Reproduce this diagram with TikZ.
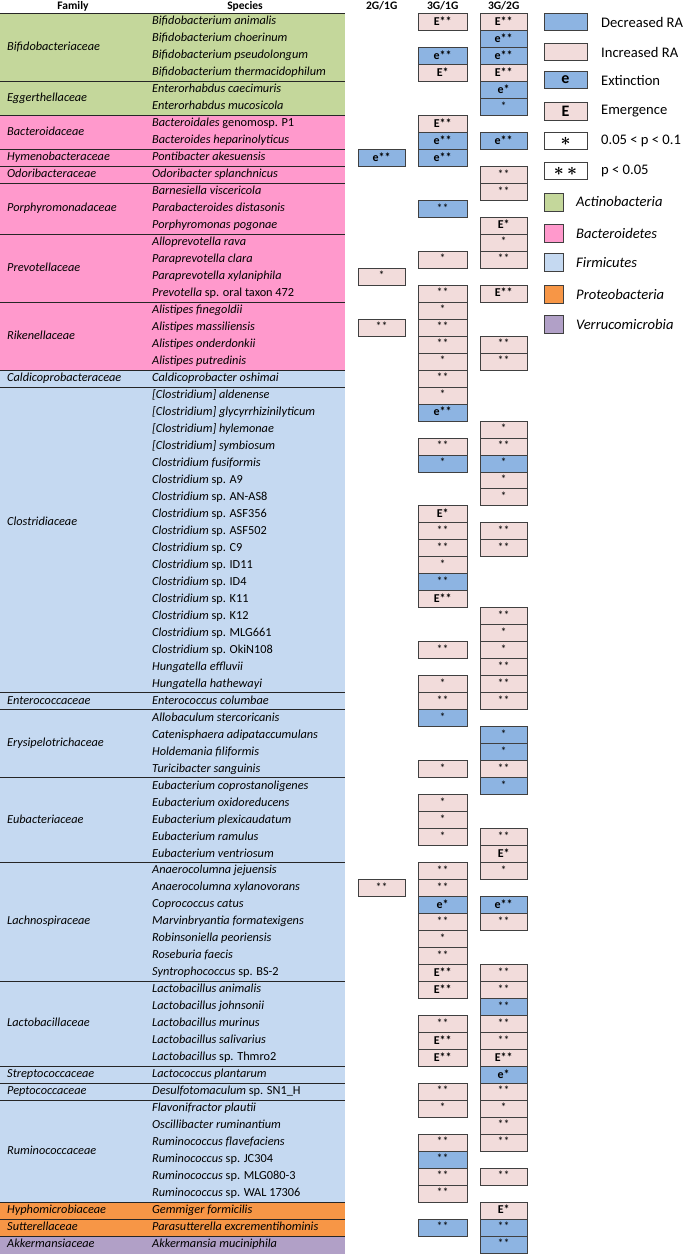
\documentclass[tikz,border=0pt]{standalone}
\usepackage{fontspec}
\setmainfont{Carlito}
\usepackage{tikz}

\definecolor{actino}{HTML}{C4D79B}
\definecolor{bacter}{HTML}{FF99CC}
\definecolor{firmi}{HTML}{C5D9F1}
\definecolor{proteo}{HTML}{F79646}
\definecolor{verruco}{HTML}{B1A0C7}
\definecolor{incr}{HTML}{F2DCDB}
\definecolor{decr}{HTML}{8DB4E2}
\definecolor{boxline}{HTML}{404040}

\tikzset{
  rule/.style={black!85, line width=1pt},
  hdr/.style={inner sep=0pt, font=\fontsize{11.5}{13}\selectfont\bfseries},
  fam/.style={anchor=west, inner sep=0pt, text height=9pt, text depth=3pt,
    font=\fontsize{12.3}{14}\selectfont\itshape},
  spc/.style={fam},
  cell/.style={draw=boxline, line width=0.9pt, inner sep=0pt,
    minimum height=16.98pt, text height=8.5pt, text depth=2pt,
    font=\fontsize{12}{14}\selectfont},
  inc/.style={cell, fill=incr},
  dec/.style={cell, fill=decr},
  wa/.style={minimum width=46.7pt},
  wb/.style={minimum width=48.7pt},
  key/.style={draw=boxline, line width=0.9pt, inner sep=0pt,
    minimum width=43pt, minimum height=17.5pt},
  swatch/.style={draw=boxline, line width=0.9pt, inner sep=0pt,
    minimum width=19pt, minimum height=18pt},
  keytxt/.style={anchor=west, inner sep=0pt, font=\fontsize{14.6}{17}\selectfont},
  phytxt/.style={keytxt, font=\fontsize{14.6}{17}\selectfont\itshape}
}

\newcommand{\Em}[1]{\textbf{E#1}}
\newcommand{\ex}[1]{\textbf{e#1}}

\begin{document}
\begin{tikzpicture}[x=1pt, y=-16.98pt]
\useasboundingbox (0,-0.295) rectangle (685,73.557);

% phylum bands
\fill[actino] (0,0.5) rectangle (345,6.5);
\fill[bacter] (0,6.5) rectangle (345,21.5);
\fill[firmi] (0,21.5) rectangle (345,70.5);
\fill[proteo] (0,70.5) rectangle (345,72.5);
\fill[verruco] (0,72.5) rectangle (345,73.557);

% family rules
\draw[rule] (0,0.5) -- (345,0.5);
\foreach \r in {4.5,6.5,8.5,9.5,10.5,13.5,17.5,21.5,22.5,40.5,41.5,45.5,50.5,57.5,62.5,63.5,64.5,70.5,71.5,72.5}
  \draw[rule] (0,\r) -- (345,\r);

% headers
\node[hdr] (hFam) at (73,0.06) {Family};
\node[hdr] (hSpc) at (245,0.06) {Species};
\node[hdr] (h21) at (381.7,0.06) {2G/1G};
\node[hdr] (h31) at (442.7,0.06) {3G/1G};
\node[hdr] (h32) at (503.7,0.06) {3G/2G};

% families
\node[fam] (fBifido) at (7,2.5) {Bifidobacteriaceae};
\node[fam] (fEgger) at (7,5.5) {Eggerthellaceae};
\node[fam] (fBactero) at (7,7.5) {Bacteroidaceae};
\node[fam] (fHymeno) at (7,9) {Hymenobacteraceae};
\node[fam] (fOdori) at (7,10) {Odoribacteraceae};
\node[fam] (fPorphy) at (7,12) {Porphyromonadaceae};
\node[fam] (fPrevo) at (7,15.5) {Prevotellaceae};
\node[fam] (fRiken) at (7,19.5) {Rikenellaceae};
\node[fam] (fCaldi) at (7,22) {Caldicoprobacteraceae};
\node[fam] (fClostr) at (7,30.5) {Clostridiaceae};
\node[fam] (fEntero) at (7,41) {Enterococcaceae};
\node[fam] (fErysi) at (7,43.5) {Erysipelotrichaceae};
\node[fam] (fEubac) at (7,48) {Eubacteriaceae};
\node[fam] (fLachno) at (7,54) {Lachnospiraceae};
\node[fam] (fLacto) at (7,60) {Lactobacillaceae};
\node[fam] (fStrepto) at (7,63) {Streptococcaceae};
\node[fam] (fPepto) at (7,64) {Peptococcaceae};
\node[fam] (fRumino) at (7,67.5) {Ruminococcaceae};
\node[fam] (fHypho) at (7,71) {Hyphomicrobiaceae};
\node[fam] (fSutter) at (7,72) {Sutterellaceae};
\node[fam] (fAkker) at (7,73) {Akkermansiaceae};

% species
\node[spc] (sp1) at (152,1) {Bifidobacterium animalis};
\node[spc] (sp2) at (152,2) {Bifidobacterium choerinum};
\node[spc] (sp3) at (152,3) {Bifidobacterium pseudolongum};
\node[spc] (sp4) at (152,4) {Bifidobacterium thermacidophilum};
\node[spc] (sp5) at (152,5) {Enterorhabdus caecimuris};
\node[spc] (sp6) at (152,6) {Enterorhabdus mucosicola};
\node[spc] (sp7) at (152,7) {Bacteroidales \textup{genomosp. P1}};
\node[spc] (sp8) at (152,8) {Bacteroides heparinolyticus};
\node[spc] (sp9) at (152,9) {Pontibacter akesuensis};
\node[spc] (sp10) at (152,10) {Odoribacter splanchnicus};
\node[spc] (sp11) at (152,11) {Barnesiella viscericola};
\node[spc] (sp12) at (152,12) {Parabacteroides distasonis};
\node[spc] (sp13) at (152,13) {Porphyromonas pogonae};
\node[spc] (sp14) at (152,14) {Alloprevotella rava};
\node[spc] (sp15) at (152,15) {Paraprevotella clara};
\node[spc] (sp16) at (152,16) {Paraprevotella xylaniphila};
\node[spc] (sp17) at (152,17) {Prevotella \textup{sp. oral taxon 472}};
\node[spc] (sp18) at (152,18) {Alistipes finegoldii};
\node[spc] (sp19) at (152,19) {Alistipes massiliensis};
\node[spc] (sp20) at (152,20) {Alistipes onderdonkii};
\node[spc] (sp21) at (152,21) {Alistipes putredinis};
\node[spc] (sp22) at (152,22) {Caldicoprobacter oshimai};
\node[spc] (sp23) at (152,23) {[Clostridium] aldenense};
\node[spc] (sp24) at (152,24) {[Clostridium] glycyrrhizinilyticum};
\node[spc] (sp25) at (152,25) {[Clostridium] hylemonae};
\node[spc] (sp26) at (152,26) {[Clostridium] symbiosum};
\node[spc] (sp27) at (152,27) {Clostridium fusiformis};
\node[spc] (sp28) at (152,28) {Clostridium \textup{sp. A9}};
\node[spc] (sp29) at (152,29) {Clostridium \textup{sp. AN-AS8}};
\node[spc] (sp30) at (152,30) {Clostridium \textup{sp. ASF356}};
\node[spc] (sp31) at (152,31) {Clostridium \textup{sp. ASF502}};
\node[spc] (sp32) at (152,32) {Clostridium \textup{sp. C9}};
\node[spc] (sp33) at (152,33) {Clostridium \textup{sp. ID11}};
\node[spc] (sp34) at (152,34) {Clostridium \textup{sp. ID4}};
\node[spc] (sp35) at (152,35) {Clostridium \textup{sp. K11}};
\node[spc] (sp36) at (152,36) {Clostridium \textup{sp. K12}};
\node[spc] (sp37) at (152,37) {Clostridium \textup{sp. MLG661}};
\node[spc] (sp38) at (152,38) {Clostridium \textup{sp. OkiN108}};
\node[spc] (sp39) at (152,39) {Hungatella effluvii};
\node[spc] (sp40) at (152,40) {Hungatella hathewayi};
\node[spc] (sp41) at (152,41) {Enterococcus columbae};
\node[spc] (sp42) at (152,42) {Allobaculum stercoricanis};
\node[spc] (sp43) at (152,43) {Catenisphaera adipataccumulans};
\node[spc] (sp44) at (152,44) {Holdemania filiformis};
\node[spc] (sp45) at (152,45) {Turicibacter sanguinis};
\node[spc] (sp46) at (152,46) {Eubacterium coprostanoligenes};
\node[spc] (sp47) at (152,47) {Eubacterium oxidoreducens};
\node[spc] (sp48) at (152,48) {Eubacterium plexicaudatum};
\node[spc] (sp49) at (152,49) {Eubacterium ramulus};
\node[spc] (sp50) at (152,50) {Eubacterium ventriosum};
\node[spc] (sp51) at (152,51) {Anaerocolumna jejuensis};
\node[spc] (sp52) at (152,52) {Anaerocolumna xylanovorans};
\node[spc] (sp53) at (152,53) {Coprococcus catus};
\node[spc] (sp54) at (152,54) {Marvinbryantia formatexigens};
\node[spc] (sp55) at (152,55) {Robinsoniella peoriensis};
\node[spc] (sp56) at (152,56) {Roseburia faecis};
\node[spc] (sp57) at (152,57) {Syntrophococcus \textup{sp. BS-2}};
\node[spc] (sp58) at (152,58) {Lactobacillus animalis};
\node[spc] (sp59) at (152,59) {Lactobacillus johnsonii};
\node[spc] (sp60) at (152,60) {Lactobacillus murinus};
\node[spc] (sp61) at (152,61) {Lactobacillus salivarius};
\node[spc] (sp62) at (152,62) {Lactobacillus \textup{sp. Thmro2}};
\node[spc] (sp63) at (152,63) {Lactococcus plantarum};
\node[spc] (sp64) at (152,64) {Desulfotomaculum \textup{sp. SN1\_H}};
\node[spc] (sp65) at (152,65) {Flavonifractor plautii};
\node[spc] (sp66) at (152,66) {Oscillibacter ruminantium};
\node[spc] (sp67) at (152,67) {Ruminococcus flavefaciens};
\node[spc] (sp68) at (152,68) {Ruminococcus \textup{sp. JC304}};
\node[spc] (sp69) at (152,69) {Ruminococcus \textup{sp. MLG080-3}};
\node[spc] (sp70) at (152,70) {Ruminococcus \textup{sp. WAL 17306}};
\node[spc] (sp71) at (152,71) {Gemmiger formicilis};
\node[spc] (sp72) at (152,72) {Parasutterella excrementihominis};
\node[spc] (sp73) at (152,73) {Akkermansia muciniphila};

% 2G/1G
\node[dec, wa] (a9) at (381.7,9) {\ex{**}};
\node[inc, wa] (a16) at (381.7,16) {*};
\node[inc, wa] (a19) at (381.7,19) {**};
\node[inc, wa] (a52) at (381.7,52) {**};

% 3G/1G
\node[inc, wb] (b1) at (442.7,1) {\Em{**}};
\node[dec, wb] (b3) at (442.7,3) {\ex{**}};
\node[inc, wb] (b4) at (442.7,4) {\Em{*}};
\node[inc, wb] (b7) at (442.7,7) {\Em{**}};
\node[dec, wb] (b8) at (442.7,8) {\ex{**}};
\node[dec, wb] (b9) at (442.7,9) {\ex{**}};
\node[dec, wb] (b12) at (442.7,12) {**};
\node[inc, wb] (b15) at (442.7,15) {*};
\node[inc, wb] (b17) at (442.7,17) {**};
\node[inc, wb] (b18) at (442.7,18) {*};
\node[inc, wb] (b19) at (442.7,19) {**};
\node[inc, wb] (b20) at (442.7,20) {**};
\node[inc, wb] (b21) at (442.7,21) {*};
\node[inc, wb] (b22) at (442.7,22) {**};
\node[inc, wb] (b23) at (442.7,23) {*};
\node[dec, wb] (b24) at (442.7,24) {\ex{**}};
\node[inc, wb] (b26) at (442.7,26) {**};
\node[dec, wb] (b27) at (442.7,27) {*};
\node[inc, wb] (b30) at (442.7,30) {\Em{*}};
\node[inc, wb] (b31) at (442.7,31) {**};
\node[inc, wb] (b32) at (442.7,32) {**};
\node[inc, wb] (b33) at (442.7,33) {*};
\node[dec, wb] (b34) at (442.7,34) {**};
\node[inc, wb] (b35) at (442.7,35) {\Em{**}};
\node[inc, wb] (b38) at (442.7,38) {**};
\node[inc, wb] (b40) at (442.7,40) {*};
\node[inc, wb] (b41) at (442.7,41) {**};
\node[dec, wb] (b42) at (442.7,42) {*};
\node[inc, wb] (b45) at (442.7,45) {*};
\node[inc, wb] (b47) at (442.7,47) {*};
\node[inc, wb] (b48) at (442.7,48) {*};
\node[inc, wb] (b49) at (442.7,49) {*};
\node[inc, wb] (b51) at (442.7,51) {**};
\node[inc, wb] (b52) at (442.7,52) {**};
\node[dec, wb] (b53) at (442.7,53) {\ex{*}};
\node[inc, wb] (b54) at (442.7,54) {**};
\node[inc, wb] (b55) at (442.7,55) {*};
\node[inc, wb] (b56) at (442.7,56) {**};
\node[inc, wb] (b57) at (442.7,57) {\Em{**}};
\node[inc, wb] (b58) at (442.7,58) {\Em{**}};
\node[inc, wb] (b60) at (442.7,60) {**};
\node[inc, wb] (b61) at (442.7,61) {\Em{**}};
\node[inc, wb] (b62) at (442.7,62) {\Em{**}};
\node[inc, wb] (b64) at (442.7,64) {**};
\node[inc, wb] (b65) at (442.7,65) {*};
\node[inc, wb] (b67) at (442.7,67) {**};
\node[dec, wb] (b68) at (442.7,68) {**};
\node[inc, wb] (b69) at (442.7,69) {**};
\node[inc, wb] (b70) at (442.7,70) {**};
\node[dec, wb] (b72) at (442.7,72) {**};

% 3G/2G
\node[inc, wa] (c1) at (503.7,1) {\Em{**}};
\node[dec, wa] (c2) at (503.7,2) {\ex{**}};
\node[dec, wa] (c3) at (503.7,3) {\ex{**}};
\node[inc, wa] (c4) at (503.7,4) {\Em{**}};
\node[dec, wa] (c5) at (503.7,5) {\ex{*}};
\node[dec, wa] (c6) at (503.7,6) {*};
\node[dec, wa] (c8) at (503.7,8) {\ex{**}};
\node[inc, wa] (c10) at (503.7,10) {**};
\node[inc, wa] (c11) at (503.7,11) {**};
\node[inc, wa] (c13) at (503.7,13) {\Em{*}};
\node[inc, wa] (c14) at (503.7,14) {*};
\node[inc, wa] (c15) at (503.7,15) {**};
\node[inc, wa] (c17) at (503.7,17) {\Em{**}};
\node[inc, wa] (c20) at (503.7,20) {**};
\node[inc, wa] (c21) at (503.7,21) {**};
\node[inc, wa] (c25) at (503.7,25) {*};
\node[inc, wa] (c26) at (503.7,26) {**};
\node[dec, wa] (c27) at (503.7,27) {*};
\node[inc, wa] (c28) at (503.7,28) {*};
\node[inc, wa] (c29) at (503.7,29) {*};
\node[inc, wa] (c31) at (503.7,31) {**};
\node[inc, wa] (c32) at (503.7,32) {**};
\node[inc, wa] (c36) at (503.7,36) {**};
\node[inc, wa] (c37) at (503.7,37) {*};
\node[inc, wa] (c38) at (503.7,38) {*};
\node[inc, wa] (c39) at (503.7,39) {**};
\node[inc, wa] (c40) at (503.7,40) {**};
\node[inc, wa] (c41) at (503.7,41) {**};
\node[dec, wa] (c43) at (503.7,43) {*};
\node[dec, wa] (c44) at (503.7,44) {*};
\node[inc, wa] (c45) at (503.7,45) {**};
\node[dec, wa] (c46) at (503.7,46) {*};
\node[inc, wa] (c49) at (503.7,49) {**};
\node[inc, wa] (c50) at (503.7,50) {\Em{*}};
\node[inc, wa] (c51) at (503.7,51) {*};
\node[dec, wa] (c53) at (503.7,53) {\ex{**}};
\node[inc, wa] (c54) at (503.7,54) {**};
\node[inc, wa] (c57) at (503.7,57) {**};
\node[inc, wa] (c58) at (503.7,58) {**};
\node[dec, wa] (c59) at (503.7,59) {**};
\node[inc, wa] (c60) at (503.7,60) {**};
\node[inc, wa] (c61) at (503.7,61) {**};
\node[inc, wa] (c62) at (503.7,62) {\Em{**}};
\node[dec, wa] (c63) at (503.7,63) {\ex{*}};
\node[inc, wa] (c64) at (503.7,64) {**};
\node[inc, wa] (c65) at (503.7,65) {*};
\node[inc, wa] (c66) at (503.7,66) {**};
\node[inc, wa] (c67) at (503.7,67) {**};
\node[inc, wa] (c69) at (503.7,69) {**};
\node[inc, wa] (c71) at (503.7,71) {\Em{*}};
\node[dec, wa] (c72) at (503.7,72) {**};
\node[dec, wa] (c73) at (503.7,73) {**};

% legend
\node[key, fill=decr] (kDec) at (565.5,1.01) {};
\node[key, fill=incr] (kInc) at (565.5,2.77) {};
\node[key, fill=decr, font=\fontsize{16}{18}\selectfont\bfseries] (kExt) at (565.5,4.42) {e};
\node[key, fill=incr, font=\fontsize{16}{18}\selectfont\bfseries] (kEme) at (565.5,6.27) {E};
\node[key, fill=white, font=\fontsize{18}{20}\selectfont\boldmath] (kOne) at (565.5,8.01) {$\ast$};
\node[key, fill=white, font=\fontsize{18}{20}\selectfont\boldmath] (kTwo) at (565.5,9.78) {$\ast\,\ast$};
\node[swatch, fill=actino] (kAct) at (553.5,11.60) {};
\node[swatch, fill=bacter] (kBac) at (553.5,13.43) {};
\node[swatch, fill=firmi] (kFir) at (553.5,15.19) {};
\node[swatch, fill=proteo] (kPro) at (553.5,17.05) {};
\node[swatch, fill=verruco] (kVer) at (553.5,18.84) {};
\node[keytxt] (tDec) at (601,1.01) {Decreased RA};
\node[keytxt] (tInc) at (601,2.77) {Increased RA};
\node[keytxt] (tExt) at (601,4.42) {Extinction};
\node[keytxt] (tEme) at (601,6.27) {Emergence};
\node[keytxt] (tOne) at (601,8.01) {0.05 < p < 0.1};
\node[keytxt] (tTwo) at (601,9.78) {p < 0.05};
\node[phytxt] (tAct) at (576,11.60) {Actinobacteria};
\node[phytxt] (tBac) at (576,13.43) {Bacteroidetes};
\node[phytxt] (tFir) at (576,15.19) {Firmicutes};
\node[phytxt] (tPro) at (576,17.05) {Proteobacteria};
\node[phytxt] (tVer) at (576,18.84) {Verrucomicrobia};

\end{tikzpicture}
\end{document}
